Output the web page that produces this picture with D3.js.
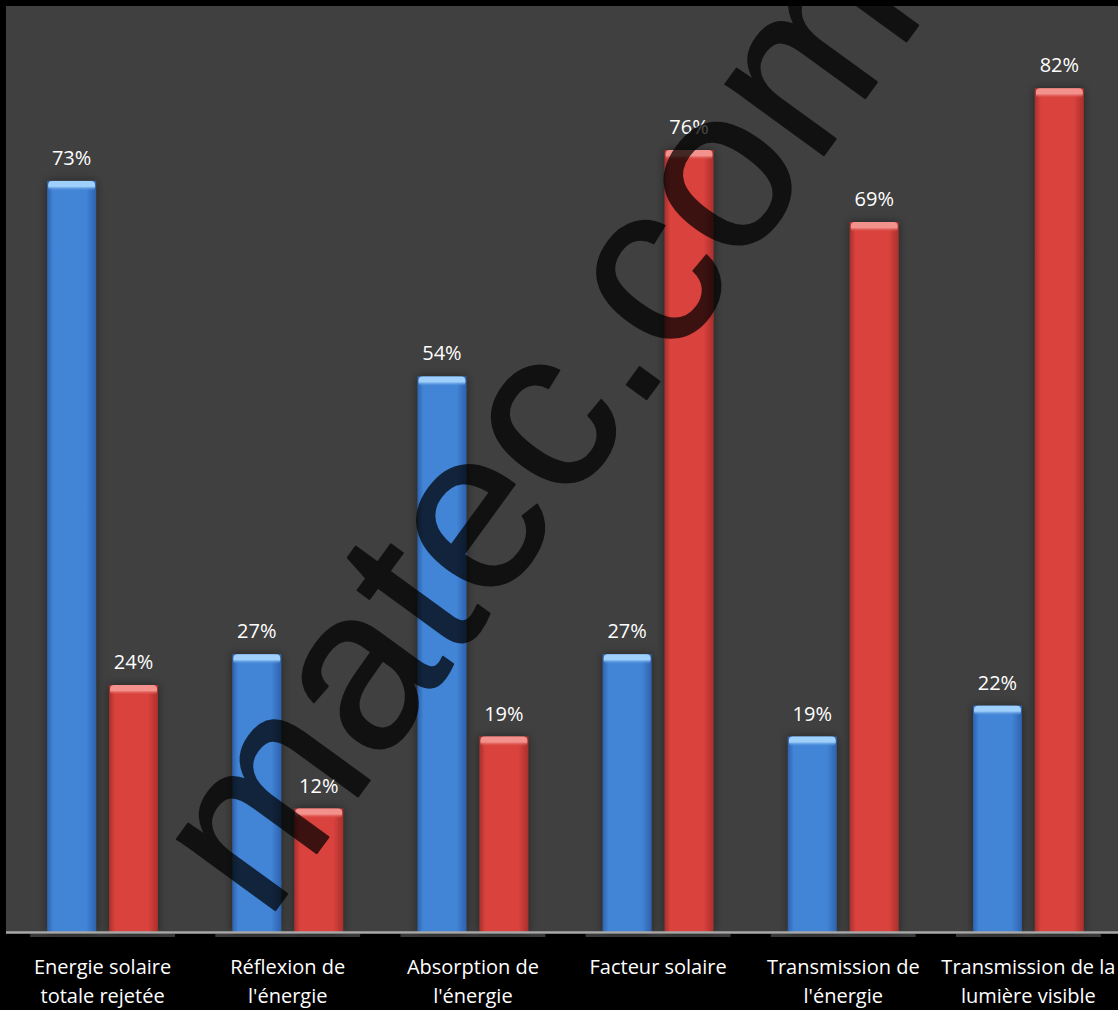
<!DOCTYPE html>
<html>
<head>
<meta charset="utf-8">
<script src="https://cdn.jsdelivr.net/npm/d3@7"></script>
<style>
  html, body { margin: 0; padding: 0; background: #000; }
  svg { display: block; }
</style>
</head>
<body>
<div id="chart"></div>
<script>
// ---- data ----
const categories = [
  "Energie solaire\ntotale rejetée",
  "Réflexion de\nl'énergie",
  "Absorption de\nl'énergie",
  "Facteur solaire",
  "Transmission de\nl'énergie",
  "Transmission de la\nlumière visible"
];
const seriesNames = ["blue", "red"];
const blueValues = [73, 27, 54, 27, 19, 22];
const redValues  = [24, 12, 19, 76, 69, 82];
const watermarkText = "matec.com";

// ---- layout ----
const W = 1118, H = 1010;
const plotLeft = 6, plotTop = 6, baseY = 932;

const svg = d3.select("#chart").append("svg")
  .attr("width", W).attr("height", H);

const defs = svg.append("defs");
function hGrad(id, edge, mid) {
  const g = defs.append("linearGradient").attr("id", id)
    .attr("x1", "0%").attr("x2", "100%").attr("y1", "0%").attr("y2", "0%");
  g.append("stop").attr("offset", "0%").attr("stop-color", edge);
  g.append("stop").attr("offset", "12%").attr("stop-color", mid);
  g.append("stop").attr("offset", "80%").attr("stop-color", mid);
  g.append("stop").attr("offset", "100%").attr("stop-color", edge);
}
hGrad("gBlue", "#2d62ad", "#4284d6");
hGrad("gRed", "#a92f2b", "#d9423e");
function capGrad(id, top, bottom) {
  const g = defs.append("linearGradient").attr("id", id)
    .attr("x1", "0%").attr("x2", "0%").attr("y1", "0%").attr("y2", "100%");
  g.append("stop").attr("offset", "0%").attr("stop-color", top);
  g.append("stop").attr("offset", "55%").attr("stop-color", top);
  g.append("stop").attr("offset", "100%").attr("stop-color", bottom).attr("stop-opacity", 0);
}
capGrad("cBlue", "#9fd0fb", "#4284d6");
capGrad("cRed", "#f3928c", "#d9423e");
const f = defs.append("filter").attr("id", "shadow")
  .attr("x", "-40%").attr("y", "-10%").attr("width", "180%").attr("height", "120%");
f.append("feDropShadow").attr("dx", 0).attr("dy", 0).attr("stdDeviation", 5)
  .attr("flood-color", "#000").attr("flood-opacity", 0.45);

// plot background
svg.append("rect").attr("x", plotLeft).attr("y", plotTop)
  .attr("width", W - plotLeft).attr("height", baseY - plotTop)
  .attr("fill", "#404040");

const x0 = d3.scaleBand().domain(categories).range([10, 1121]).paddingInner(0).paddingOuter(0);
const x1 = d3.scaleBand().domain(seriesNames).range([0, x0.bandwidth()])
  .paddingInner(0.21).paddingOuter(0.6);
const y = d3.scaleLinear().domain([0, 90]).range([baseY, plotTop]);

const rows = categories.map((c, i) => ({ cat: c, vals: [
  { s: "blue", v: blueValues[i] }, { s: "red", v: redValues[i] }] }));

const groups = svg.append("g").selectAll("g").data(rows).join("g")
  .attr("transform", d => `translate(${x0(d.cat)},0)`);

// shadow strips below baseline
groups.append("rect")
  .attr("x", x1("blue") - 17).attr("y", baseY + 2)
  .attr("width", x1("red") + x1.bandwidth() - x1("blue") + 34).attr("height", 3)
  .attr("fill", "#3a3a3a");

const bars = groups.selectAll("g.bar").data(d => d.vals).join("g").attr("class", "bar");
bars.append("rect")
  .attr("x", d => x1(d.s)).attr("y", d => y(d.v))
  .attr("width", x1.bandwidth()).attr("height", d => baseY - y(d.v))
  .attr("fill", d => d.s === "blue" ? "url(#gBlue)" : "url(#gRed)")
  .attr("filter", "url(#shadow)");
bars.append("rect")
  .attr("x", d => x1(d.s) + 1).attr("y", d => y(d.v))
  .attr("width", x1.bandwidth() - 2).attr("height", 10)
  .attr("rx", 4)
  .attr("fill", d => d.s === "blue" ? "url(#cBlue)" : "url(#cRed)");

// value labels
bars.append("text")
  .attr("x", d => x1(d.s) + x1.bandwidth() / 2)
  .attr("y", d => y(d.v) - 16)
  .attr("text-anchor", "middle")
  .attr("font-family", "'Open Sans', sans-serif")
  .attr("font-size", 20)
  .attr("fill", "#ffffff")
  .text(d => d.v + "%");

// baseline
svg.append("line").attr("x1", plotLeft).attr("x2", W)
  .attr("y1", baseY + 0.5).attr("y2", baseY + 0.5)
  .attr("stroke", "#a8a8a8").attr("stroke-width", 2.5);

// category labels
const xt = svg.append("g").selectAll("text").data(categories).join("text")
  .attr("x", d => x0(d) + x0.bandwidth() / 2)
  .attr("y", 974)
  .attr("text-anchor", "middle")
  .attr("font-family", "'Open Sans', sans-serif")
  .attr("font-size", 20)
  .attr("fill", "#ffffff");
xt.selectAll("tspan").data(d => d.split("\n")).join("tspan")
  .attr("x", function() { return d3.select(this.parentNode).attr("x"); })
  .attr("dy", (d, i) => i === 0 ? 0 : 29)
  .text(d => d);

// watermark
svg.append("g").attr("opacity", 0.72)
  .append("text")
  .attr("transform", "translate(266,923) rotate(-54)")
  .attr("font-family", "'Liberation Sans', Arial, sans-serif")
  .attr("font-size", 230)
  .attr("fill", "#000")
  .attr("stroke", "#000").attr("stroke-width", 2).attr("stroke-linejoin", "round")
  .text(watermarkText);
</script>
</body>
</html>
